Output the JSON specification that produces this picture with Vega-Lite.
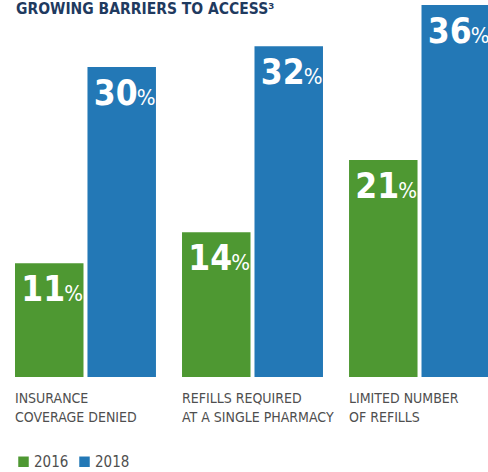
{
  "$schema": "https://vega.github.io/schema/vega-lite/v6.json",
  "width": 475,
  "height": 372,
  "autosize": "none",
  "padding": {"left": 15, "top": 5, "right": 0, "bottom": 95},
  "background": "white",
  "config": {"view": {"stroke": null}, "font": "DejaVu Sans Condensed, Liberation Sans Narrow, sans-serif"},
  "title": {
    "text": "GROWING BARRIERS TO ACCESS³",
    "anchor": "start",
    "frame": "group",
    "font": "DejaVu Sans Condensed, Liberation Sans Narrow, sans-serif",
    "fontWeight": "bold",
    "fontSize": 15.5,
    "color": "#1f3a5f",
    "baseline": "alphabetic",
    "offset": 0,
    "dy": 24,
    "dx": 1
  },
  "data": {
    "values": [
      {"category": "INSURANCE|COVERAGE DENIED", "year": "2016", "value": 11},
      {"category": "INSURANCE|COVERAGE DENIED", "year": "2018", "value": 30},
      {"category": "REFILLS REQUIRED|AT A SINGLE PHARMACY", "year": "2016", "value": 14},
      {"category": "REFILLS REQUIRED|AT A SINGLE PHARMACY", "year": "2018", "value": 32},
      {"category": "LIMITED NUMBER|OF REFILLS", "year": "2016", "value": 21},
      {"category": "LIMITED NUMBER|OF REFILLS", "year": "2018", "value": 36}
    ]
  },
  "encoding": {
    "x": {
      "field": "category",
      "type": "nominal",
      "sort": null,
      "scale": {"paddingInner": 0.156, "paddingOuter": 0},
      "axis": {
        "title": null,
        "domain": false,
        "ticks": false,
        "labelOffset": -70.5,
        "labelAlign": "left",
        "labelBaseline": "top",
        "labelPadding": 14,
        "labelFontSize": 14,
        "labelColor": "#4f4f4f",
        "labelLineHeight": 19,
        "labelAngle": 0,
        "labelLimit": 300,
        "labelOverlap": false,
        "labelBound": false,
        "labelFont": "DejaVu Sans Condensed, Liberation Sans Narrow, sans-serif",
        "labelExpr": "split(datum.label, '|')"
      }
    },
    "xOffset": {"field": "year", "type": "nominal", "scale": {"paddingInner": 0.055}},
    "y": {"field": "value", "type": "quantitative", "scale": {"domain": [0, 36], "nice": false, "zero": true}, "axis": null}
  },
  "layer": [
    {
      "mark": {"type": "bar"},
      "encoding": {
        "color": {
          "field": "year",
          "type": "nominal",
          "scale": {"domain": ["2016", "2018"], "range": ["#4e9832", "#2378b6"]},
          "legend": {
            "orient": "none",
            "legendX": 1,
            "legendY": 449,
            "direction": "horizontal",
            "title": null,
            "symbolType": "square",
            "symbolSize": 110,
            "symbolStrokeWidth": 0,
            "labelFontSize": 15,
            "labelColor": "#4f4f4f",
            "labelFont": "DejaVu Sans Condensed, Liberation Sans Narrow, sans-serif",
            "columnPadding": 8,
            "labelOffset": 3,
            "padding": 0
          }
        }
      }
    },
    {
      "mark": {"type": "text", "align": "left", "baseline": "alphabetic", "dx": -28, "dy": 38, "fontWeight": "bold", "fontSize": 35, "color": "white", "font": "DejaVu Sans Condensed, Liberation Sans Narrow, sans-serif"},
      "encoding": {"text": {"field": "value", "type": "quantitative"}}
    },
    {
      "mark": {"type": "text", "align": "left", "baseline": "alphabetic", "dx": 15, "dy": 38, "fontWeight": "normal", "fontSize": 22, "color": "white", "font": "DejaVu Sans Condensed, Liberation Sans Narrow, sans-serif"},
      "encoding": {"text": {"value": "%"}}
    }
  ]
}
